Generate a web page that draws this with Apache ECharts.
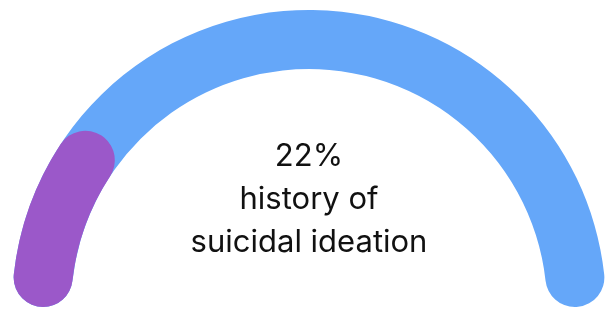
<!DOCTYPE html>
<html>
<head>
<meta charset="utf-8">
<script src="https://cdn.jsdelivr.net/npm/echarts@6/dist/echarts.min.js"></script>
<style>
  html, body { margin: 0; padding: 0; background: #fff; }
  #chart { width: 609px; height: 309px; }
</style>
</head>
<body>
<div id="chart"></div>
<script>
const labels = ['history of', 'suicidal ideation']
const values = [22]
const total = 100

const chart = echarts.init(document.getElementById('chart'))

const ring = {
  type: 'pie',
  center: [309, 307],
  radius: [238, 297],
  startAngle: 180,
  endAngle: 0,
  silent: true,
  label: {show: false},
  labelLine: {show: false},
  itemStyle: {borderRadius: 30}
}

const option = {
  animation: false,
  series: [
    {
      ...ring,
      data: [{value: total, itemStyle: {color: '#65a7f9'}}]
    },
    {
      ...ring,
      data: [
        {value: values[0], itemStyle: {color: '#9b58c9'}},
        {value: total - values[0], itemStyle: {color: 'rgba(0,0,0,0)'}}
      ]
    }
  ],
  graphic: [{
    type: 'text',
    x: 309,
    y: 200,
    style: {
      text: `${values[0]}%\n${labels.join('\n')}`,
      align: 'center',
      verticalAlign: 'middle',
      fontFamily: 'Inter',
      fontSize: 31,
      lineHeight: 43,
      fill: '#111'
    }
  }]
}

chart.setOption(option)
</script>
</body>
</html>
